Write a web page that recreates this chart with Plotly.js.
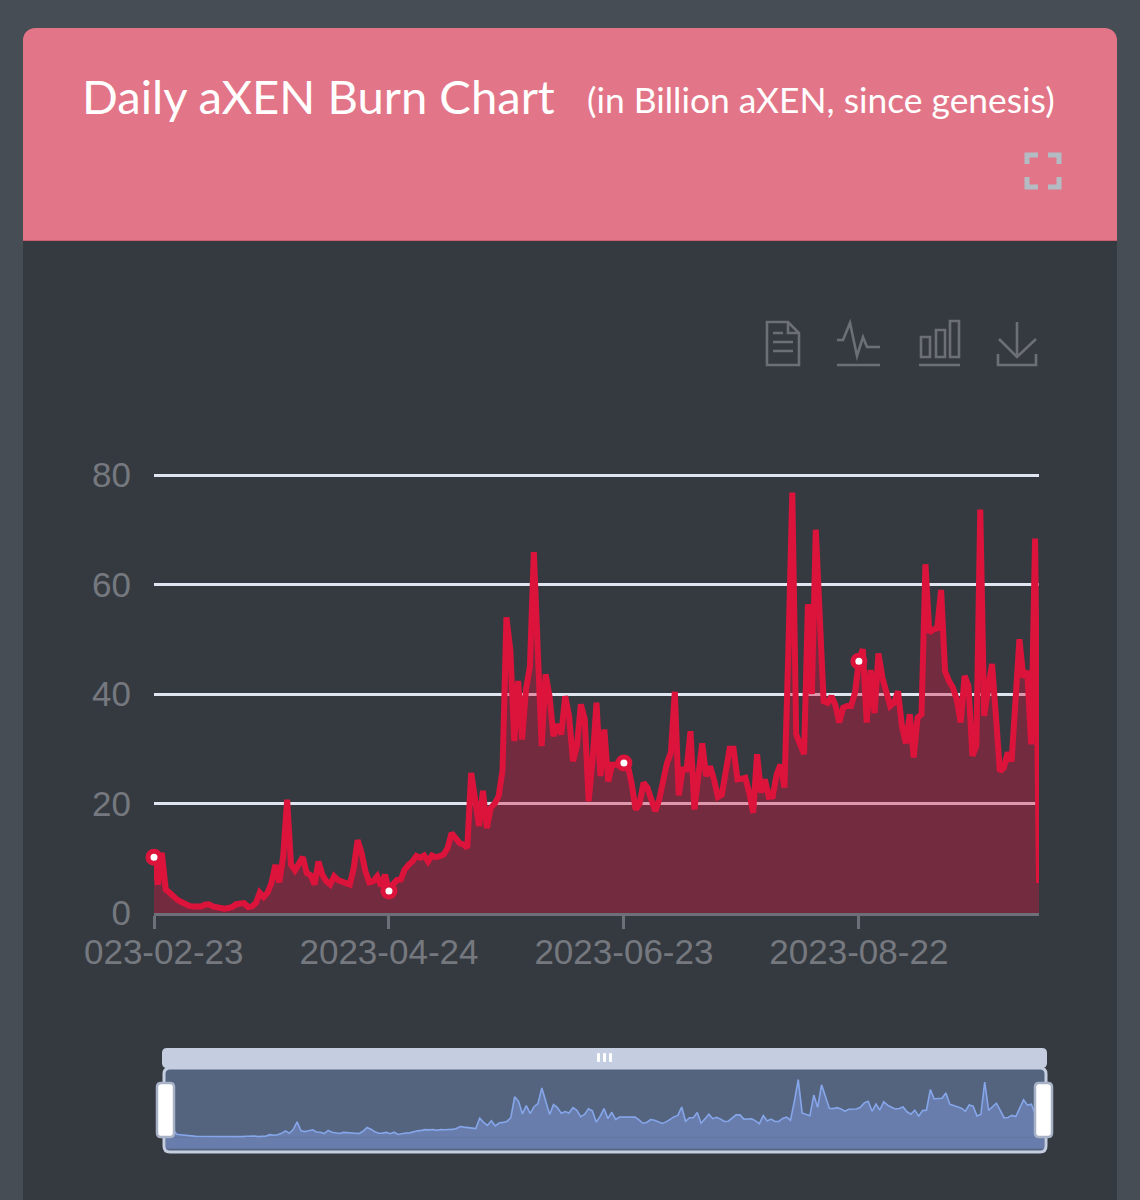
<!DOCTYPE html>
<html>
<head>
<meta charset="utf-8">
<title>Daily aXEN Burn Chart</title>
<script src="https://cdn.plot.ly/plotly-3.0.1.min.js"></script>
<style>
  html, body { margin: 0; padding: 0; background: #464d55; overflow: hidden; }
  #card { position: absolute; left: 23px; top: 28px; width: 1094px; height: 1200px; background: #353a41; border-radius: 12px; }
  #head { position: absolute; left: 0; top: 0; width: 1094px; height: 213px; background: #e37588; border-radius: 12px 12px 0 0; border-bottom: 1px solid #c9606f; box-sizing: border-box; }
  #title { position: absolute; left: 59px; top: 38px; color: #fff; font-family: "Lato", sans-serif; font-size: 47.2px; white-space: nowrap; line-height: 60px; }
  #sub { position: absolute; left: 564px; top: 47px; color: #fff; font-family: "Lato", sans-serif; font-size: 35.4px; white-space: nowrap; line-height: 50px; }
  #icons { position: absolute; left: 0; top: 0; }
  #chart { position: absolute; left: 85px; top: 0; width: 1055px; height: 1200px; }
</style>
</head>
<body>
<div id="card">
  <div id="head">
    <div id="title">Daily aXEN Burn Chart</div>
    <div id="sub">(in Billion aXEN, since genesis)</div>
  </div>
</div>
<svg id="icons" width="1140" height="400" fill="none">
  <path d="M1027 164V155H1038M1048 155H1059V164M1059 177V187H1048M1038 187H1027V177" stroke="#b4bcc3" stroke-width="5"/>
  <g stroke="#6c7074" stroke-width="2.6">
    <path d="M767 322H788L799 333V365H767Z M788 322V333H799 M773 333H783 M773 342H793 M773 351H793"/>
    <path d="M837 340H843L850 323L857 356L863 337L867 347H880 M837 365H880"/>
    <path d="M921 337H930V357H921Z M936 330H945V357H936Z M950 321H959V357H950Z M919 365H960"/>
    <path d="M1017 322V357 M999 339L1017 357L1036 339 M998 354V365H1036V354"/>
  </g>
</svg>
<div id="chart"></div>
<script>
// daily burn in billion aXEN
const burned = [
  10.2, 5.2, 11, 4.3, 3.7, 2.9, 2.4, 2, 1.5, 1.3,
  1.2, 1.2, 1.2, 1.5, 1.6, 1.2, 1, 0.9, 0.8, 0.9,
  1.1, 1.6, 1.8, 1.8, 1.1, 1.2, 1.8, 3.7, 2.9, 3.7,
  5.5, 8.8, 5.6, 10.4, 20.7, 8.8, 7.8, 8.8, 10.2, 7.3,
  6.9, 5.2, 9.4, 7, 5.8, 5.2, 6.7, 6, 5.8, 5.6,
  5.2, 8.2, 13.3, 11, 7.6, 5.6, 5.8, 6.7, 4.9, 7,
  4, 5.2, 6, 6.1, 7.9, 8.8, 9.4, 10.4, 10.1, 10.5,
  9.4, 10.5, 10.2, 10.4, 10.7, 11.9, 14.6, 13.7, 12.8, 12.5,
  11.9, 25.6, 20, 15.9, 22.3, 15.5, 19.2, 20, 21.3, 26,
  54, 48, 31.4, 42.4, 31.7, 40.9, 45, 65.9, 48, 30.5,
  43.6, 39.6, 32.3, 34.5, 32.6, 39.6, 36, 27.7, 30.5, 38.1,
  35.4, 20.4, 28, 38.4, 25, 33.5, 24, 27.1, 27.1, 27.4,
  27.4, 27, 23.5, 18.9, 20, 23.8, 22.9, 20.7, 18.6, 20.7,
  24, 27.4, 29.3, 40.4, 21.5, 26.2, 26.2, 33.2, 18.9, 25,
  31, 25, 26.8, 24.4, 21.2, 21.6, 26.2, 30, 30, 24.4,
  24.5, 24.7, 22, 18.3, 29, 22, 24.4, 21.2, 21.3, 25.3,
  27.1, 22.9, 48, 76.8, 32.6, 31, 29, 56.4, 40, 70,
  53.6, 38.7, 38.4, 39.6, 38, 34.8, 37.5, 37.8, 37.8, 40.2,
  46, 48.2, 34.8, 44.4, 36.5, 47.4, 43, 40.2, 37.8, 38.4,
  40.5, 34.1, 31, 36.3, 28.4, 35.7, 36.3, 63.7, 51.2, 51.8,
  52, 59, 44.2, 42.4, 41.2, 39, 34.8, 43.3, 41.5, 28.7,
  30.5, 73.7, 36, 41, 45.5, 36, 25.9, 26.5, 29.3, 27.7,
  39, 50, 43, 44.2, 30.8, 68.4, 5.5
];
const startDay = '2023-02-23';
const tickEvery = 60;   // days between x labels and dots
const yTicks = [0, 20, 40, 60, 80];

const dates = burned.map((v, i) => {
  const d = new Date(startDay + 'T00:00:00Z');
  d.setUTCDate(d.getUTCDate() + i);
  return d.toISOString().slice(0, 10);
});
const dotDates = dates.filter((d, i) => i % tickEvery === 0);
const dotValues = burned.filter((v, i) => i % tickEvery === 0);

// page pixels to paper coordinates of the chart div
const W = 1055, H = 1200, LEFT = 85;
const px = x => (x - LEFT) / W;
const py = y => 1 - y / H;

function roundRect(x0, y0, x1, y1, r) {
  const a = (x, y) => px(x) + ',' + py(y);
  return 'M' + a(x0 + r, y0) + 'L' + a(x1 - r, y0) + 'Q' + a(x1, y0) + ' ' + a(x1, y0 + r) +
    'L' + a(x1, y1 - r) + 'Q' + a(x1, y1) + ' ' + a(x1 - r, y1) +
    'L' + a(x0 + r, y1) + 'Q' + a(x0, y1) + ' ' + a(x0, y1 - r) +
    'L' + a(x0, y0 + r) + 'Q' + a(x0, y0) + ' ' + a(x0 + r, y0) + 'Z';
}
function chrome(x0, y0, x1, y1, r, fill, line, width, layer) {
  return {
    type: 'path', xref: 'paper', yref: 'paper', layer: layer || 'above',
    path: roundRect(x0, y0, x1, y1, r), fillcolor: fill,
    line: { color: line, width: width }
  };
}

const traces = [
  {
    x: dates, y: burned, mode: 'lines', fill: 'tozeroy', cliponaxis: false,
    line: { color: '#dc143c', width: 6 }, fillcolor: 'rgba(220,20,60,0.37)',
    hoverinfo: 'x+y'
  },
  {
    x: dotDates, y: dotValues, mode: 'markers', cliponaxis: false,
    marker: { size: 12, color: '#fff', line: { color: '#dc143c', width: 5 } },
    hoverinfo: 'skip'
  },
  {
    x: dates, y: burned, xaxis: 'x2', yaxis: 'y2', mode: 'lines', fill: 'tozeroy',
    line: { color: '#86a6ea', width: 1.6 }, fillcolor: '#687dac',
    hoverinfo: 'skip'
  }
];

const layout = {
  width: W, height: H,
  margin: { l: 0, r: 0, t: 0, b: 0 },
  paper_bgcolor: 'rgba(0,0,0,0)',
  plot_bgcolor: 'rgba(0,0,0,0)',
  showlegend: false,
  font: { family: '"Liberation Sans", Arial, sans-serif', color: '#75797f', size: 35 },
  xaxis: {
    domain: [px(154), px(1039)], anchor: 'y', type: 'date',
    range: [dates[0], dates[dates.length - 1]],
    tick0: startDay, dtick: tickEvery * 86400000, tickformat: '%Y-%m-%d',
    ticks: 'outside', ticklen: 13, tickwidth: 3, tickcolor: '#6e7079',
    showline: true, linecolor: '#6e7079', linewidth: 3,
    showgrid: false, zeroline: false,
    ticklabelstandoff: -7, ticklabeloverflow: 'allow'
  },
  yaxis: {
    // range runs a little past 80 so the top grid line is not dropped at the edge
    domain: [py(913), py(472.26)], anchor: 'x', range: [0, 80.5],
    tickvals: yTicks, ticks: '', ticklabelstandoff: 22,
    showgrid: true, gridcolor: '#e0e6f1', gridwidth: 3,
    showline: false, zeroline: false
  },
  xaxis2: {
    domain: [px(165), px(1043)], anchor: 'y2', type: 'date', visible: false,
    range: [dates[0], dates[dates.length - 1]]
  },
  yaxis2: {
    domain: [py(1151), py(1069)], anchor: 'x2', range: [-18, 91], visible: false
  },
  shapes: [
    chrome(164, 1068, 1046, 1152, 6, '#54647f', '#c5cde0', 3, 'below'),
    { type: 'rect', xref: 'paper', yref: 'y2', layer: 'below', x0: px(166), x1: px(1044), y0: -15, y1: 0,
      fillcolor: '#687dac', line: { width: 0 } },
    chrome(162, 1048, 1047, 1068, 5, '#c5cde0', '#c5cde0', 0),
    chrome(597, 1053, 600, 1062, 1, '#fff', '#fff', 0),
    chrome(603, 1053, 606, 1062, 1, '#fff', '#fff', 0),
    chrome(609, 1053, 612, 1062, 1, '#fff', '#fff', 0),
    chrome(157, 1083, 174, 1137, 4, '#fff', '#a7b2c6', 2.5),
    chrome(1035, 1083, 1052, 1137, 4, '#fff', '#a7b2c6', 2.5)
  ]
};

Plotly.newPlot('chart', traces, layout, { displayModeBar: false, staticPlot: true });
</script>
</body>
</html>
